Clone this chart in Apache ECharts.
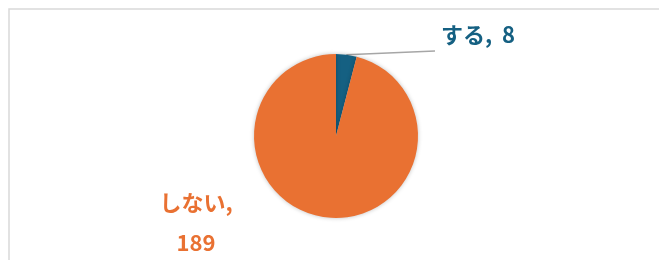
<!DOCTYPE html>
<html>
<head>
<meta charset="utf-8">
<script src="https://cdn.jsdelivr.net/npm/echarts@6/dist/echarts.min.js"></script>
<style>
  html, body { margin: 0; padding: 0; background: #fff; }
  #chart { width: 659px; height: 260px; }
</style>
</head>
<body>
<div id="chart"></div>
<script>
const names = ['する', 'しない']
const values = [8, 189]
const colors = ['#156082', '#E97132']

let chart = echarts.init(document.getElementById('chart'))

let data = names.map((n, i) => {
  return {
    name: n,
    value: values[i],
    itemStyle: { color: colors[i] },
    label: {
      color: colors[i],
      formatter: i === 0 ? '{b},  {c}' : '{b},\n{c}',
    },
    labelLine: { show: i === 0 },
  }
})

let options = {
  animation: false,
  graphic: [
    {
      type: 'rect',
      shape: { x: 9, y: 9, width: 700, height: 300 },
      style: { fill: 'none', stroke: '#d9d9d9', lineWidth: 1.5 },
    },
  ],
  series: [
    {
      type: 'pie',
      center: [336, 136],
      radius: 82,
      startAngle: 90,
      clockwise: true,
      itemStyle: {
        shadowBlur: 4,
        shadowColor: 'rgba(0,0,0,0.25)',
      },
      label: {
        show: true,
        position: 'outside',
        fontFamily: 'Noto Sans CJK JP',
        fontWeight: 'bold',
        fontSize: 22,
        lineHeight: 40,
        align: 'center',
      },
      labelLine: {
        show: true,
        lineStyle: { color: '#a6a6a6', width: 1.5 },
      },
      labelLayout: p => {
        if (p.dataIndex === 0) {
          let start = p.labelLinePoints ? p.labelLinePoints[0] : [346, 55]
          return {
            x: 478, y: 35, align: 'center', verticalAlign: 'middle',
            labelLinePoints: [start, [435, 51], [435, 51]],
          }
        }
        return { x: 196, y: 223, align: 'center', verticalAlign: 'middle' }
      },
      data: data,
    },
  ],
}
chart.setOption(options)
</script>
</body>
</html>
